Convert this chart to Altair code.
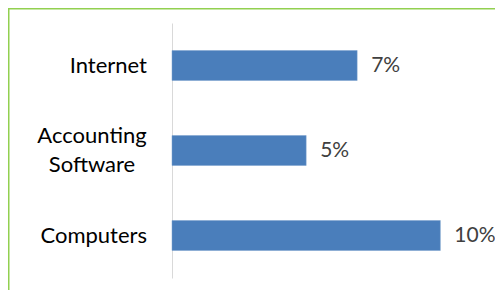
import altair as alt
import pandas as pd

categories = ["Internet", "Accounting Software", "Computers"]
values = [0.069, 0.05, 0.10]

df = pd.DataFrame({"category": categories, "value": values})

y_enc = alt.Y(
    "category:N",
    sort=categories,
    title=None,
    scale=alt.Scale(paddingInner=0, paddingOuter=0),
    axis=alt.Axis(ticks=False, labels=False, domainColor="#D9D9D9", domainWidth=1),
)
y_plain = alt.Y("category:N", sort=categories, title=None, scale=alt.Scale(paddingInner=0, paddingOuter=0))
x_enc = alt.X("value:Q", scale=alt.Scale(domain=[0, 0.12]), axis=None)

base = alt.Chart(df)
bars = base.mark_bar(size=30, color="#4A7EBB", stroke="#7BA0CD", strokeWidth=0.5).encode(x=x_enc, y=y_enc)
labels = base.mark_text(
    align="left", baseline="middle", dx=14, font="Lato", fontSize=21, color="#404040"
).encode(x=x_enc, y=y_plain, text=alt.Text("value:Q", format=".0%"))

single_names = base.transform_filter("indexof(datum.category, ' ') < 0").mark_text(
    align="right", baseline="middle", font="Lato", fontSize=22, color="#000000"
).encode(x=alt.value(-25), y=y_plain, text="category:N")

multi_names = base.transform_filter("indexof(datum.category, ' ') >= 0").transform_calculate(
    lines="split(datum.category, ' ')"
).mark_text(
    align="center", baseline="middle", font="Lato", fontSize=22, color="#000000",
    lineHeight=29, dy=-14.5
).encode(x=alt.value(-80), y=y_plain, text="lines:N")

border = alt.Chart(pd.DataFrame({"a": [0]})).mark_rect(
    filled=False, stroke="#92D050", strokeWidth=1.5
).encode(
    x=alt.value(-163.25), x2=alt.value(500), y=alt.value(-14.25), y2=alt.value(400)
)

chart = alt.layer(border, bars, labels, single_names, multi_names).properties(
    width=322,
    height=255,
    autosize=alt.AutoSizeParams(type="none"),
    padding={"left": 164, "top": 15, "right": 1, "bottom": 12},
).configure_view(stroke=None)

chart.save("out.html", embed_options={"renderer": "svg", "actions": False})
